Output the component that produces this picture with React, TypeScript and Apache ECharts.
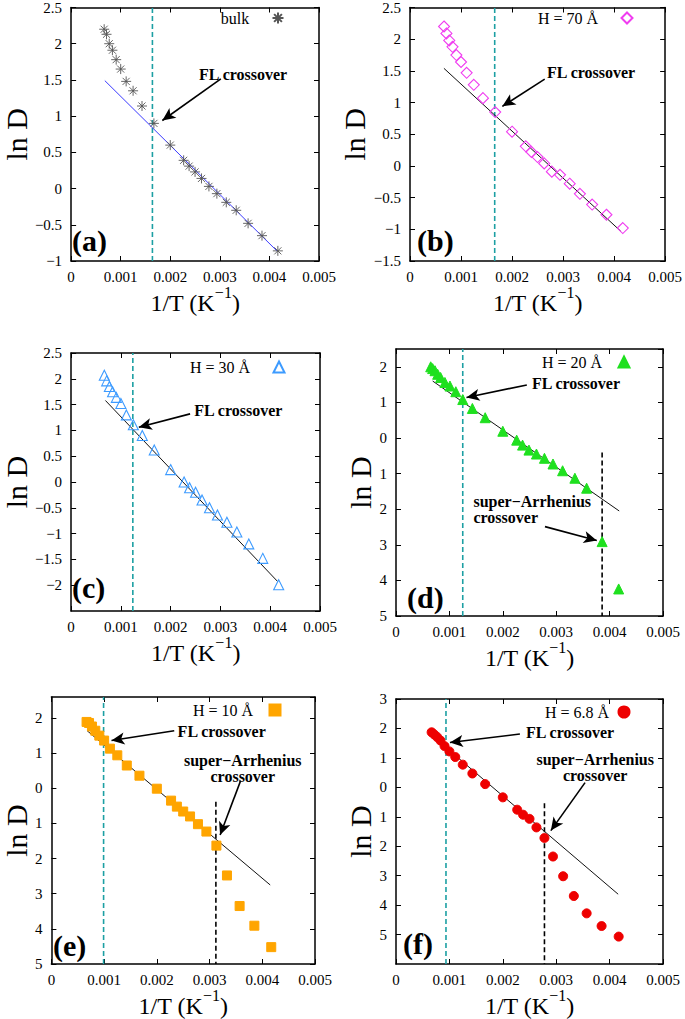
import React, { useEffect, useRef } from "react";
import * as echarts from "echarts";

const FONT = "'Liberation Serif', 'Times New Roman', serif";

// 1/T values (K^-1)
const X_COMMON = [0.000667, 0.000714, 0.000769, 0.000833, 0.000909, 0.001, 0.00111, 0.00125, 0.00143, 0.00167, 0.002, 0.00227, 0.00238, 0.0025, 0.00263, 0.00278, 0.00294, 0.00313, 0.00333, 0.00357, 0.00385, 0.00417];
const X_H20 = [0.00065, 0.000686, 0.00073, 0.00078, 0.000835, 0.000916, 0.00101, 0.00112, 0.00125, 0.00143, 0.00167, 0.002, 0.00226, 0.00237, 0.00249, 0.00263, 0.00278, 0.00294, 0.00312, 0.00335, 0.00357, 0.00386, 0.00417];

// ln D values
const Y_BULK = [2.2, 2.13, 2.0, 1.91, 1.78, 1.65, 1.48, 1.35, 1.14, 0.9, 0.6, 0.39, 0.31, 0.23, 0.14, 0.03, -0.07, -0.19, -0.3, -0.48, -0.65, -0.86];
const Y_H70 = [2.2, 2.09, 1.98, 1.88, 1.75, 1.64, 1.47, 1.28, 1.07, 0.85, 0.54, 0.31, 0.22, 0.14, 0.04, -0.09, -0.14, -0.28, -0.44, -0.61, -0.77, -0.98];
const Y_H30 = [2.07, 1.96, 1.85, 1.75, 1.64, 1.52, 1.3, 1.11, 0.9, 0.62, 0.24, 0.0, -0.11, -0.2, -0.35, -0.5, -0.64, -0.78, -0.97, -1.2, -1.48, -1.99];
const Y_H20 = [2.0, 1.95, 1.89, 1.79, 1.7, 1.56, 1.46, 1.3, 1.08, 0.83, 0.57, 0.19, -0.06, -0.2, -0.34, -0.45, -0.57, -0.73, -0.92, -1.13, -1.41, -2.91, -4.24];
const Y_H10 = [1.89, 1.86, 1.76, 1.64, 1.5, 1.36, 1.13, 0.94, 0.65, 0.36, -0.01, -0.35, -0.52, -0.66, -0.8, -1.02, -1.23, -1.63, -2.48, -3.35, -3.91, -4.52];
const Y_H68 = [1.87, 1.8, 1.71, 1.59, 1.4, 1.22, 1.03, 0.77, 0.47, 0.11, -0.34, -0.76, -0.93, -1.07, -1.36, -1.72, -2.35, -3.02, -3.69, -4.28, -4.71, -5.07];

// Arrhenius fit line end points [x, lnD]
const FIT_A = [[0.00068, 1.49], [0.00415, -0.86]];
const FIT_B = [[0.000665, 1.54], [0.00413, -1.03]];
const FIT_C = [[0.000689, 1.58], [0.00415, -1.93]];
const FIT_D = [[0.000687, 1.6], [0.00418, -2.05]];
const FIT_E = [[0.000678, 1.64], [0.00415, -2.75]];
const FIT_F = [[0.000699, 1.72], [0.00416, -3.63]];

// crossover positions (1/T)
const FL_X = [0.00164, 0.00166, 0.00124, 0.00125, 0.00099, 0.000936];
const SA_X = [null, null, null, 0.00386, 0.00312, 0.00278];
const SA_TOP = [null, null, null, -0.41, -0.38, -0.54];

const LEGEND_NAMES = ["bulk", "H = 70 Å", "H = 30 Å", "H = 20 Å", "H = 10 Å", "H = 6.8 Å"];
const TAGS = ["(a)", "(b)", "(c)", "(d)", "(e)", "(f)"];

const STAR = "path://M5 0L5 10M0 5L10 5M1.46 1.46L8.54 8.54M1.46 8.54L8.54 1.46";

const PANELS: any[] = [
  {
    x: X_COMMON, y: Y_BULK, fit: FIT_A,
    grid: { left: 61, top: 5, width: 258, height: 256 },
    yMin: -1, yMax: 2.5, yInt: 0.5, intLabels: false, hideMin: false, hideMax: false,
    symbol: STAR, size: 10, fill: "transparent", stroke: "#555", bw: 0.9, fitColor: "#3a3aff",
    flText: [0.00347, 1.58], flArrow: [[0.00302, 1.515], [0.00184, 0.94]],
    yNameGap: 33, tagPos: [72, 240], legText: [235, 18], legIcon: [277, 17],
  },
  {
    x: X_COMMON, y: Y_H70, fit: FIT_B,
    grid: { left: 410, top: 5, width: 258, height: 256 },
    yMin: -1.5, yMax: 2.5, yInt: 0.5, intLabels: false, hideMin: false, hideMax: false,
    symbol: "diamond", size: 11, fill: "transparent", stroke: "#f03cf0", bw: 1.1, fitColor: "#111",
    flText: [0.00355, 1.48], flArrow: [[0.00264, 1.37], [0.00181, 0.94]],
    yNameGap: 40, tagPos: [417, 240], legText: [568, 18], legIcon: [626, 17],
  },
  {
    x: X_COMMON, y: Y_H30, fit: FIT_C,
    grid: { left: 61, top: 353, width: 259, height: 258 },
    yMin: -2.5, yMax: 2.5, yInt: 0.5, intLabels: false, hideMin: true, hideMax: false,
    symbol: "triangle", size: 10, fill: "transparent", stroke: "#3d9bff", bw: 1.1, fitColor: "#111",
    flText: [0.00336, 1.38], flArrow: [[0.00239, 1.32], [0.00136, 1.06]],
    yNameGap: 31, tagPos: [72, 587], legText: [220, 367], legIcon: [278, 366],
  },
  {
    x: X_H20, y: Y_H20, fit: FIT_D,
    grid: { left: 396, top: 349, width: 267, height: 267 },
    yMin: -5, yMax: 2.5, yInt: 1, intLabels: true, hideMin: false, hideMax: true,
    symbol: "triangle", size: 10, fill: "#1fe01f", stroke: "#1fe01f", bw: 1, fitColor: "#111",
    flText: [0.00337, 1.54], flArrow: [[0.00245, 1.49], [0.00132, 1.14]],
    saText: [0.00145, -2.0], saAlign: "left", saArrow: [[0.00279, -2.49], [0.00376, -2.88]],
    yNameGap: 16, tagPos: [407, 597], legText: [572, 362], legIcon: [623, 361],
  },
  {
    x: X_COMMON, y: Y_H10, fit: FIT_E,
    grid: { left: 47, top: 697, width: 268, height: 267 },
    yMin: -5, yMax: 2.6, yInt: 1, intLabels: true, hideMin: false, hideMax: true,
    symbol: "rect", size: 9, fill: "#ffa500", stroke: "#ffa500", bw: 1, fitColor: "#111",
    flText: [0.00323, 1.61], flArrow: [[0.00233, 1.64], [0.00114, 1.36]],
    saText: [0.00363, 0.57], saAlign: "center", saArrow: [[0.00359, 0.22], [0.0032, -1.33]],
    yNameGap: 19, tagPos: [53, 945], legText: [223, 710], legIcon: [274, 709],
  },
  {
    x: X_COMMON, y: Y_H68, fit: FIT_F,
    grid: { left: 396, top: 699, width: 267, height: 265 },
    yMin: -6, yMax: 3, yInt: 1, intLabels: true, hideMin: true, hideMax: false,
    symbol: "circle", size: 9, fill: "#ee0000", stroke: "#ee0000", bw: 1, fitColor: "#111",
    flText: [0.00326, 1.86], flArrow: [[0.00232, 1.81], [0.00101, 1.52]],
    saText: [0.00373, 0.68], saAlign: "center", saArrow: [[0.00354, 0.16], [0.0029, -1.47]],
    yNameGap: 16, tagPos: [403, 943], legText: [577, 712], legIcon: [623, 711],
  },
];

function fmtX(v: number) {
  if (Math.abs(v) < 1e-12) return "0";
  return v.toFixed(3);
}
function fmtY(v: number) {
  const r = Math.round(v * 10) / 10;
  if (r < 0) return "\u2212" + String(Math.abs(r));
  return String(r);
}
function fmtYInt(v: number) {
  return String(Math.abs(Math.round(v)));
}

function buildOption() {
  const grid: any[] = [];
  const xAxis: any[] = [];
  const yAxis: any[] = [];
  const series: any[] = [];
  const legend: any[] = [];
  const graphic: any[] = [];

  const axisLine = { show: true, onZero: false, lineStyle: { color: "#000", width: 1.5 } };
  const axisTick = { show: true, inside: true, length: 5, lineStyle: { color: "#000", width: 1 } };
  const labelStyle = { fontSize: 15, fontFamily: FONT, color: "#000" };

  PANELS.forEach((p, i) => {
    grid.push({ ...p.grid, containLabel: false });
    const xi = 2 * i;
    const yi = 2 * i;
    xAxis.push({
      type: "value", gridIndex: i, position: "bottom", min: 0, max: 0.005, interval: 0.001,
      axisLine, axisTick, splitLine: { show: false },
      axisLabel: { ...labelStyle, margin: 8, formatter: fmtX },
      name: "{n|1/T (K}{s|\u22121}{n|)}", nameLocation: "middle", nameGap: 17,
      nameTextStyle: {
        fontFamily: FONT, color: "#000",
        rich: {
          n: { fontSize: 24, fontFamily: FONT, color: "#000", lineHeight: 30, verticalAlign: "bottom" },
          s: { fontSize: 16, fontFamily: FONT, color: "#000", lineHeight: 16, verticalAlign: "top" },
        },
      },
    });
    xAxis.push({
      type: "value", gridIndex: i, position: "top", min: 0, max: 0.005, interval: 0.001,
      axisLine, axisTick, splitLine: { show: false }, axisLabel: { show: false },
    });
    yAxis.push({
      type: "value", gridIndex: i, position: "left", min: p.yMin, max: p.yMax, interval: p.yInt,
      axisLine, axisTick, splitLine: { show: false },
      axisLabel: {
        ...labelStyle, margin: 9, formatter: p.intLabels ? fmtYInt : fmtY,
        showMinLabel: !p.hideMin, showMaxLabel: !p.hideMax,
      },
      name: "ln D", nameLocation: "middle", nameGap: p.yNameGap, nameRotate: 90,
      nameTextStyle: { fontSize: 30, fontFamily: FONT, color: "#000" },
    });
    yAxis.push({
      type: "value", gridIndex: i, position: "right", min: p.yMin, max: p.yMax, interval: p.yInt,
      axisLine, axisTick, splitLine: { show: false }, axisLabel: { show: false },
    });

    const textLabel = {
      show: true, position: "inside", fontFamily: FONT, fontWeight: "bold", fontSize: 16,
      color: "#000", lineHeight: 16,
    };
    const markData: any[] = [
      { coord: p.flText, label: { ...textLabel, formatter: "FL crossover" } },
    ];
    const arrows: any[] = [
      [{ coord: p.flArrow[0] }, { coord: p.flArrow[1] }],
    ];
    if (p.saText) {
      markData.push({
        coord: p.saText,
        label: { ...textLabel, align: p.saAlign, formatter: "super\u2212Arrhenius\ncrossover" },
      });
      arrows.push([{ coord: p.saArrow[0] }, { coord: p.saArrow[1] }]);
    }

    // fit line
    series.push({
      type: "line", name: "fit" + i, xAxisIndex: xi, yAxisIndex: yi,
      data: p.fit, symbol: "none", silent: true, z: 2,
      lineStyle: { color: p.fitColor, width: 1 },
      markPoint: {
        silent: true, symbol: "circle", symbolSize: 1, itemStyle: { color: "transparent" },
        data: markData,
      },
      markLine: {
        silent: true, symbol: ["none", "arrow"], symbolSize: [9, 13],
        lineStyle: { color: "#000", width: 1.6, type: "solid" },
        label: { show: false }, data: arrows,
      },
    });
    // FL crossover vertical
    series.push({
      type: "line", name: "fl" + i, xAxisIndex: xi, yAxisIndex: yi,
      data: [[FL_X[i], p.yMin], [FL_X[i], p.yMax]], symbol: "none", silent: true, z: 1,
      lineStyle: { color: "#1c9fa3", width: 1.6, type: [5, 3] },
    });
    if (SA_X[i] !== null) {
      series.push({
        type: "line", name: "sa" + i, xAxisIndex: xi, yAxisIndex: yi,
        data: [[SA_X[i], SA_TOP[i]], [SA_X[i], p.yMin]], symbol: "none", silent: true, z: 1,
        lineStyle: { color: "#000", width: 1.6, type: [5, 3] },
      });
    }
    // data points
    series.push({
      type: "scatter", name: LEGEND_NAMES[i], xAxisIndex: xi, yAxisIndex: yi,
      data: p.x.map((xv: number, k: number) => [xv, p.y[k]]),
      symbol: p.symbol, symbolSize: p.size, z: 3,
      itemStyle: { color: p.fill, borderColor: p.stroke, borderWidth: p.bw, opacity: 1 },
    });

    // legend key (icon only) + label text
    legend.push({
      data: [LEGEND_NAMES[i]], left: p.legIcon[0] - 5.5, top: p.legIcon[1] - 5.5,
      orient: "horizontal", align: "left", padding: 0, itemWidth: 11, itemHeight: 11,
      selectedMode: false, formatter: () => "",
      textStyle: { fontSize: 2, fontFamily: FONT, color: "#000" },
    });
    graphic.push({
      type: "text", x: p.legText[0], y: p.legText[1], silent: true,
      style: {
        text: LEGEND_NAMES[i], fontSize: 16, fontFamily: FONT, fill: "#000",
        align: "center", verticalAlign: "middle",
      },
    });

    graphic.push({
      type: "text", x: p.tagPos[0], y: p.tagPos[1], silent: true,
      style: {
        text: TAGS[i], fontSize: 30, fontWeight: "bold", fontFamily: FONT, fill: "#000",
        verticalAlign: "middle", align: "left",
      },
    });
  });

  return { animation: false, backgroundColor: "#fff", grid, xAxis, yAxis, series, legend, graphic };
}

export default function App() {
  const ref = useRef<HTMLDivElement>(null);
  useEffect(() => {
    if (!ref.current) return;
    const chart = echarts.init(ref.current, undefined, { renderer: "svg" });
    chart.setOption(buildOption() as any);
    return () => chart.dispose();
  }, []);
  return (
    <div
      ref={ref}
      style={{ position: "absolute", left: 0, top: 0, width: 685, height: 1019, background: "#fff" }}
    />
  );
}
